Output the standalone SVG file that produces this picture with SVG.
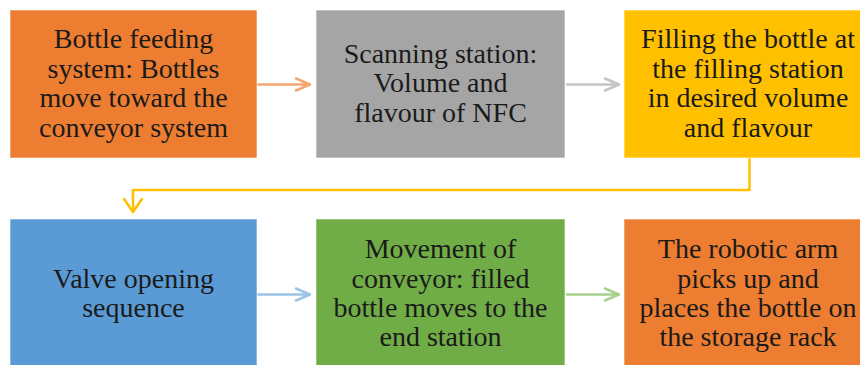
<svg xmlns="http://www.w3.org/2000/svg" width="860" height="365" viewBox="0 0 860 365">
<style>
.box{stroke:#ffffff;stroke-opacity:0.6;stroke-width:1}
.t{font-family:"Liberation Serif","Times New Roman",serif;font-size:28px;fill:#1a1a1a;text-anchor:middle}
.c{fill:none;stroke-width:2.5;stroke-linecap:round;stroke-linejoin:round}
</style>
<rect width="860" height="365" fill="#ffffff"/>
<g id="connectors">
<path class="c" stroke="#F4A671" d="M258,84.5 H310 M296,78.5 L310,84.5 L296,90.5"/>
<path class="c" stroke="#C4C4C4" d="M567,84.5 H619 M605,78.5 L619,84.5 L605,90.5"/>
<path class="c" stroke="#FFC000" stroke-width="3" stroke-linecap="butt" stroke-linejoin="miter" d="M749.5,158 V190 H133 V211"/>
<path class="c" stroke="#FFC000" stroke-width="3" d="M124,199 L133,212 L142,199"/>
<path class="c" stroke="#9DC3E6" d="M258,294.5 H310 M296,288.5 L310,294.5 L296,300.5"/>
<path class="c" stroke="#A9D18E" d="M567,294.5 H619 M605,288.5 L619,294.5 L605,300.5"/>
</g>
<g id="n1">
<rect class="box" x="10" y="10" width="247" height="148" fill="#ED7D31"/>
<text class="t" x="133.5" y="48">Bottle feeding</text>
<text class="t" x="133.5" y="77.5">system: Bottles</text>
<text class="t" x="133.5" y="107">move toward the</text>
<text class="t" x="133.5" y="136.5">conveyor system</text>
</g>
<g id="n2">
<rect class="box" x="316" y="10" width="249" height="148" fill="#A5A5A5"/>
<text class="t" x="440.5" y="62.5">Scanning station:</text>
<text class="t" x="440.5" y="92">Volume and</text>
<text class="t" x="440.5" y="121.5">flavour of NFC</text>
</g>
<g id="n3">
<rect class="box" x="624" y="10" width="249" height="148" fill="#FFC000"/>
<text class="t" x="748" y="48">Filling the bottle at</text>
<text class="t" x="748" y="77.5">the filling station</text>
<text class="t" x="748" y="107">in desired volume</text>
<text class="t" x="748" y="136.5">and flavour</text>
</g>
<g id="n4">
<rect class="box" x="10" y="219" width="247" height="150" fill="#5B9BD5"/>
<text class="t" x="133.5" y="287.5">Valve opening</text>
<text class="t" x="133.5" y="317">sequence</text>
</g>
<g id="n5">
<rect class="box" x="316" y="219" width="249" height="150" fill="#70AD47"/>
<text class="t" x="440.5" y="258">Movement of</text>
<text class="t" x="440.5" y="287.5">conveyor: filled</text>
<text class="t" x="440.5" y="317">bottle moves to the</text>
<text class="t" x="440.5" y="346">end station</text>
</g>
<g id="n6">
<rect class="box" x="624" y="219" width="249" height="150" fill="#ED7D31"/>
<text class="t" x="748" y="258">The robotic arm</text>
<text class="t" x="748" y="287.5">picks up and</text>
<text class="t" x="748" y="317">places the bottle on</text>
<text class="t" x="748" y="346">the storage rack</text>
</g>
</svg>
